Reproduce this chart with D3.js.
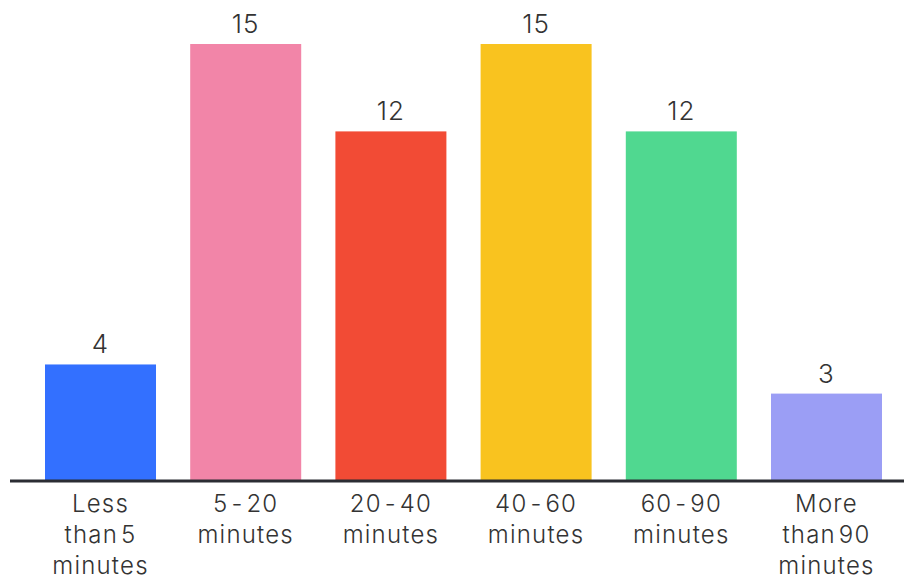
<!DOCTYPE html>
<html><head><meta charset="utf-8">
<script src="https://cdn.jsdelivr.net/npm/d3@7"></script>
<style>body{margin:0;background:#fff}svg{display:block}</style>
</head><body>
<svg id="c" width="904" height="580"></svg>
<script>
const categories = [["Less","than 5","minutes"],["5 - 20","minutes"],["20 - 40","minutes"],["40 - 60","minutes"],["60 - 90","minutes"],["More","than 90","minutes"]];
const values = [4, 15, 12, 15, 12, 3];
const colors = ["#3370FF","#F285A8","#F24B35","#F9C31F","#50D890","#9B9EF5"];

const svg = d3.select("#c");
const baseY = 481, topY = 44;
const x = d3.scaleBand().domain(d3.range(values.length)).range([45, 882]).paddingInner(0.2355).paddingOuter(0);
const y = d3.scaleLinear().domain([0, 15]).range([baseY, topY]);

svg.selectAll("rect.bar").data(values).join("rect")
  .attr("x", (d,i)=>x(i)).attr("width", x.bandwidth())
  .attr("y", d=>y(d)).attr("height", d=>baseY - y(d))
  .attr("fill", (d,i)=>colors[i]);

svg.append("line").attr("x1",10).attr("x2",904).attr("y1",baseY).attr("y2",baseY)
  .attr("stroke","#2b2d33").attr("stroke-width",3);

svg.selectAll("text.val").data(values).join("text")
  .attr("x",(d,i)=>x(i)+x.bandwidth()/2).attr("y", d=>y(d)-11)
  .attr("text-anchor","middle").attr("font-family","Inter, sans-serif")
  .attr("font-weight",300).attr("letter-spacing",1)
  .attr("font-size",26).attr("fill","#333").text(d=>d);

const g = svg.selectAll("text.cat").data(categories).join("text")
  .attr("text-anchor","middle").attr("font-family","Inter, sans-serif")
  .attr("font-weight",300).attr("letter-spacing",1.2).attr("word-spacing",-5)
  .attr("font-size",24).attr("fill","#333");
g.each(function(lines,i){
  d3.select(this).selectAll("tspan").data(lines).join("tspan")
    .attr("x", x(i)+x.bandwidth()/2).attr("y",(d,j)=>512+j*31).text(d=>d);
});
</script>
</body></html>
